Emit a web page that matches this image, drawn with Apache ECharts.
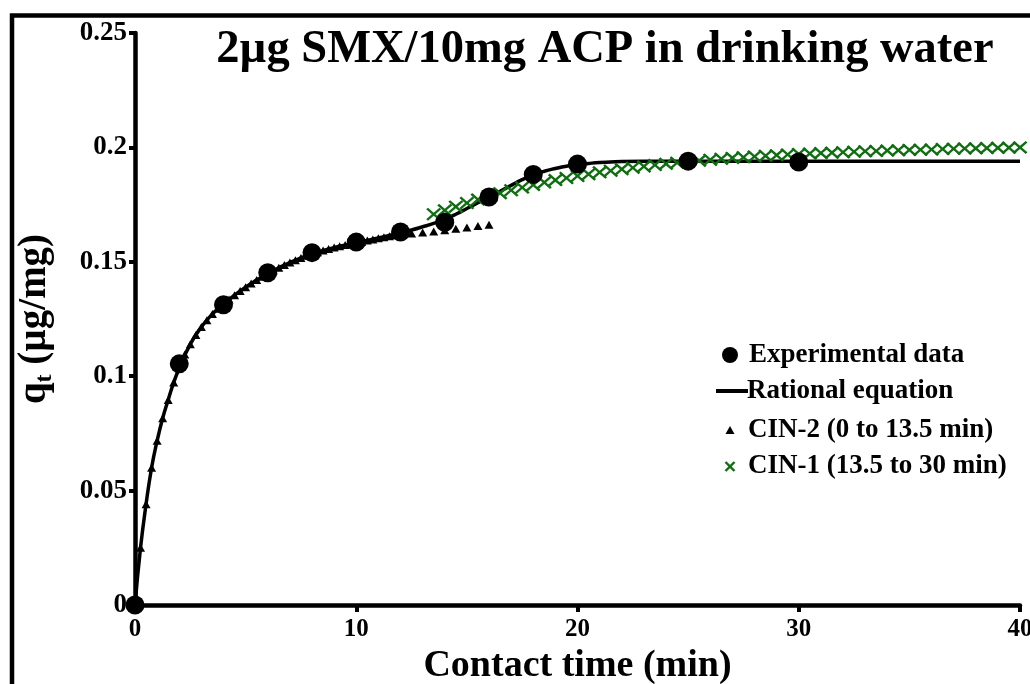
<!DOCTYPE html>
<html>
<head>
<meta charset="utf-8">
<script src="https://cdn.jsdelivr.net/npm/echarts@6/dist/echarts.min.js"></script>
<style>html,body{margin:0;padding:0;background:#fff;width:100%;height:100%;overflow:hidden;}#chart{width:1030px;height:684px;}</style>
</head>
<body>
<div id="chart"></div>
<script>
// Experimental data
var expTime = [0, 2, 4, 6, 8, 10, 12, 14, 16, 18, 20, 25, 30];
var expQ = [0, 0.1054, 0.1312, 0.1452, 0.1540, 0.1586, 0.1630, 0.1673, 0.1783, 0.1882, 0.1927, 0.1940, 0.1936];

// Rational equation (fitted curve)
var ratTime = [0, 0.25, 0.5, 0.75, 1, 1.25, 1.5, 1.75, 2, 2.5, 3, 3.5, 4, 4.5, 5, 5.5, 6, 6.5, 7, 7.5, 8, 8.5, 9, 9.5, 10, 10.5, 11, 11.5, 12, 12.5, 13, 13.5, 14, 14.5, 15, 15.5, 16, 16.5, 17, 17.5, 18, 18.5, 19, 19.5, 20, 20.5, 21, 21.5, 22, 23, 24, 30, 40];
var ratQ = [0, 0.0250, 0.0440, 0.0600, 0.0718, 0.0816, 0.0896, 0.0973, 0.1035, 0.1140, 0.1215, 0.1272, 0.1315, 0.1354, 0.1389, 0.1420, 0.1449, 0.1474, 0.1497, 0.1517, 0.1535, 0.1549, 0.1562, 0.1573, 0.1583, 0.1593, 0.1604, 0.1615, 0.1627, 0.1639, 0.1653, 0.1668, 0.1686, 0.1708, 0.1733, 0.1758, 0.1783, 0.1808, 0.1834, 0.1859, 0.1880, 0.1896, 0.1908, 0.1918, 0.1925, 0.1930, 0.1934, 0.1936, 0.1938, 0.1939, 0.1939, 0.1939, 0.1939];

// CIN-2 (0 to 13.5 min)
var cin2Time = [0.25, 0.5, 0.75, 1, 1.25, 1.5, 1.75, 2, 2.25, 2.5, 2.75, 3, 3.25, 3.5, 3.75, 4, 4.25, 4.5, 4.75, 5, 5.25, 5.5, 5.75, 6, 6.25, 6.5, 6.75, 7, 7.25, 7.5, 7.75, 8, 8.25, 8.5, 8.75, 9, 9.25, 9.5, 9.75, 10, 10.25, 10.5, 10.75, 11, 11.25, 11.5, 11.75, 12, 12.5, 13, 13.5, 14, 14.5, 15, 15.5, 16];
var cin2Q = [0.0250, 0.0440, 0.0600, 0.0718, 0.0816, 0.0896, 0.0973, 0.1035, 0.1095, 0.1140, 0.1180, 0.1215, 0.1245, 0.1272, 0.1295, 0.1315, 0.1335, 0.1354, 0.1372, 0.1389, 0.1405, 0.1420, 0.1435, 0.1449, 0.1462, 0.1474, 0.1486, 0.1497, 0.1507, 0.1517, 0.1526, 0.1535, 0.1542, 0.1549, 0.1556, 0.1562, 0.1568, 0.1573, 0.1578, 0.1583, 0.1588, 0.1593, 0.1598, 0.1603, 0.1607, 0.1612, 0.1616, 0.1620, 0.1624, 0.1628, 0.1632, 0.1638, 0.1644, 0.1650, 0.1656, 0.1662];

// CIN-1 (13.5 to 30 min)
var cin1Time = [13.5, 14, 14.5, 15, 15.5, 16, 16.5, 17, 17.5, 18, 18.5, 19, 19.5, 20, 20.5, 21, 21.5, 22, 22.5, 23, 23.5, 24, 24.5, 25, 25.5, 26, 26.5, 27, 27.5, 28, 28.5, 29, 29.5, 30, 30.5, 31, 31.5, 32, 32.5, 33, 33.5, 34, 34.5, 35, 35.5, 36, 36.5, 37, 37.5, 38, 38.5, 39, 39.5, 40];
var cin1Q = [0.1708, 0.1725, 0.1741, 0.1757, 0.1772, 0.1786, 0.1800, 0.1813, 0.1825, 0.1836, 0.1847, 0.1857, 0.1866, 0.1875, 0.1883, 0.1891, 0.1898, 0.1905, 0.1911, 0.1917, 0.1923, 0.1928, 0.1933, 0.1938, 0.1942, 0.1946, 0.1950, 0.1954, 0.1957, 0.1960, 0.1963, 0.1966, 0.1969, 0.1971, 0.1973, 0.1975, 0.1977, 0.1979, 0.1981, 0.1983, 0.1984, 0.1986, 0.1987, 0.1989, 0.1990, 0.1991, 0.1993, 0.1994, 0.1995, 0.1996, 0.1997, 0.1998, 0.1999, 0.2000];

var xTicks = [0, 10, 20, 30, 40];
var yTicks = [0, 0.05, 0.1, 0.15, 0.2, 0.25];

var legendNames = ['Experimental data', 'Rational equation', 'CIN-2 (0 to 13.5 min)', 'CIN-1 (13.5 to 30 min)'];
var titleText = '2\u00b5g SMX/10mg ACP in drinking water';
var xName = 'Contact time (min)';

function zip(a, b) { return a.map(function (v, i) { return [v, b[i]]; }); }

var FONT = '"Liberation Serif", "Times New Roman", serif';
var GREEN = '#0f6e0f';
var crossPath = 'path://M0,1.2 L1.2,0 L5,3.8 L8.8,0 L10,1.2 L6.2,5 L10,8.8 L8.8,10 L5,6.2 L1.2,10 L0,8.8 L3.8,5 Z';

var chart = echarts.init(document.getElementById('chart'), null, {renderer: 'canvas', width: 1030, height: 684});
chart.setOption({
  animation: false,
  backgroundColor: '#fff',
  title: {
    text: titleText,
    left: 600, top: 21, textAlign: 'center',
    textStyle: {fontFamily: FONT, fontWeight: 'bold', fontSize: 46.5, color: '#000'}
  },
  grid: {left: 135, right: 10, top: 33, bottom: 79, containLabel: false, outerBoundsMode: 'none'},
  xAxis: {
    type: 'value', min: 0, max: 40, interval: 10,
    name: xName, nameLocation: 'middle', nameGap: 32,
    nameTextStyle: {fontFamily: FONT, fontWeight: 'bold', fontSize: 38, color: '#000'},
    axisLine: {show: true, onZero: false, lineStyle: {color: '#000', width: 4.5}},
    axisTick: {show: true, inside: false, length: 7, lineStyle: {color: '#000', width: 4}},
    axisLabel: {margin: 12, fontFamily: FONT, fontWeight: 'bold', fontSize: 25, color: '#000',
      formatter: function (v) { return xTicks.indexOf(v) >= 0 ? String(v) : ''; }},
    splitLine: {show: false}
  },
  yAxis: {
    type: 'value', min: 0, max: 0.25, interval: 0.05,
    name: '{a|q}{b|t}{a| (\u00b5g/mg)}', nameLocation: 'middle', nameRotate: 90, nameGap: 78,
    nameTextStyle: {
      color: '#000',
      rich: {
        a: {fontFamily: FONT, fontWeight: 'bold', fontSize: 39, lineHeight: 42, verticalAlign: 'top', color: '#000'},
        b: {fontFamily: FONT, fontWeight: 'bold', fontSize: 24, lineHeight: 26, verticalAlign: 'bottom', padding: [20, 0, 0, 0], color: '#000'}
      }
    },
    axisLine: {show: true, onZero: false, lineStyle: {color: '#000', width: 4.5}},
    axisTick: {show: true, inside: false, length: 6, lineStyle: {color: '#000', width: 4}},
    axisLabel: {margin: 8, fontFamily: FONT, fontWeight: 'bold', fontSize: 27, color: '#000',
      formatter: function (v) {
        for (var i = 0; i < yTicks.length; i++) { if (Math.abs(yTicks[i] - v) < 1e-9) return String(yTicks[i]); }
        return '';
      }},
    splitLine: {show: false}
  },
  series: [
    {
      name: legendNames[1], type: 'line', data: zip(ratTime, ratQ), showSymbol: false, smooth: true,
      lineStyle: {color: '#000', width: 3.5}, z: 3
    },
    {
      name: legendNames[2], type: 'scatter', data: zip(cin2Time, cin2Q), symbol: 'triangle', symbolSize: [9, 8],
      itemStyle: {color: '#000', opacity: 1}, z: 2
    },
    {
      name: legendNames[3], type: 'scatter', data: zip(cin1Time, cin1Q), symbol: crossPath, symbolSize: [15, 13],
      itemStyle: {color: GREEN, opacity: 1}, z: 4
    },
    {
      name: legendNames[0], type: 'scatter', data: zip(expTime, expQ), symbol: 'circle', symbolSize: 19,
      itemStyle: {color: '#000', opacity: 1}, z: 5
    }
  ],
  graphic: [
    {type: 'rect', shape: {x: 12, y: 15.5, width: 1100, height: 800}, style: {fill: 'none', stroke: '#000', lineWidth: 4.5}, z: 100, silent: true},
    {type: 'circle', shape: {cx: 730, cy: 355, r: 8}, style: {fill: '#000'}, z: 100},
    {type: 'text', x: 749, y: 355, style: {text: legendNames[0], font: 'bold 27px ' + FONT, fill: '#000', verticalAlign: 'middle'}, z: 100},
    {type: 'line', shape: {x1: 716, y1: 391, x2: 748, y2: 391}, style: {stroke: '#000', lineWidth: 4}, z: 100},
    {type: 'text', x: 747, y: 391, style: {text: legendNames[1], font: 'bold 27px ' + FONT, fill: '#000', verticalAlign: 'middle'}, z: 100},
    {type: 'polygon', shape: {points: [[730, 426], [734.5, 434], [725.5, 434]]}, style: {fill: '#000'}, z: 100},
    {type: 'text', x: 748, y: 430, style: {text: legendNames[2], font: 'bold 27px ' + FONT, fill: '#000', verticalAlign: 'middle'}, z: 100},
    {type: 'line', shape: {x1: 725.5, y1: 462, x2: 734.5, y2: 471}, style: {stroke: GREEN, lineWidth: 2.4}, z: 100},
    {type: 'line', shape: {x1: 734.5, y1: 462, x2: 725.5, y2: 471}, style: {stroke: GREEN, lineWidth: 2.4}, z: 100},
    {type: 'text', x: 748, y: 466, style: {text: legendNames[3], font: 'bold 27px ' + FONT, fill: '#000', verticalAlign: 'middle'}, z: 100}
  ]
});
</script>
</body>
</html>
